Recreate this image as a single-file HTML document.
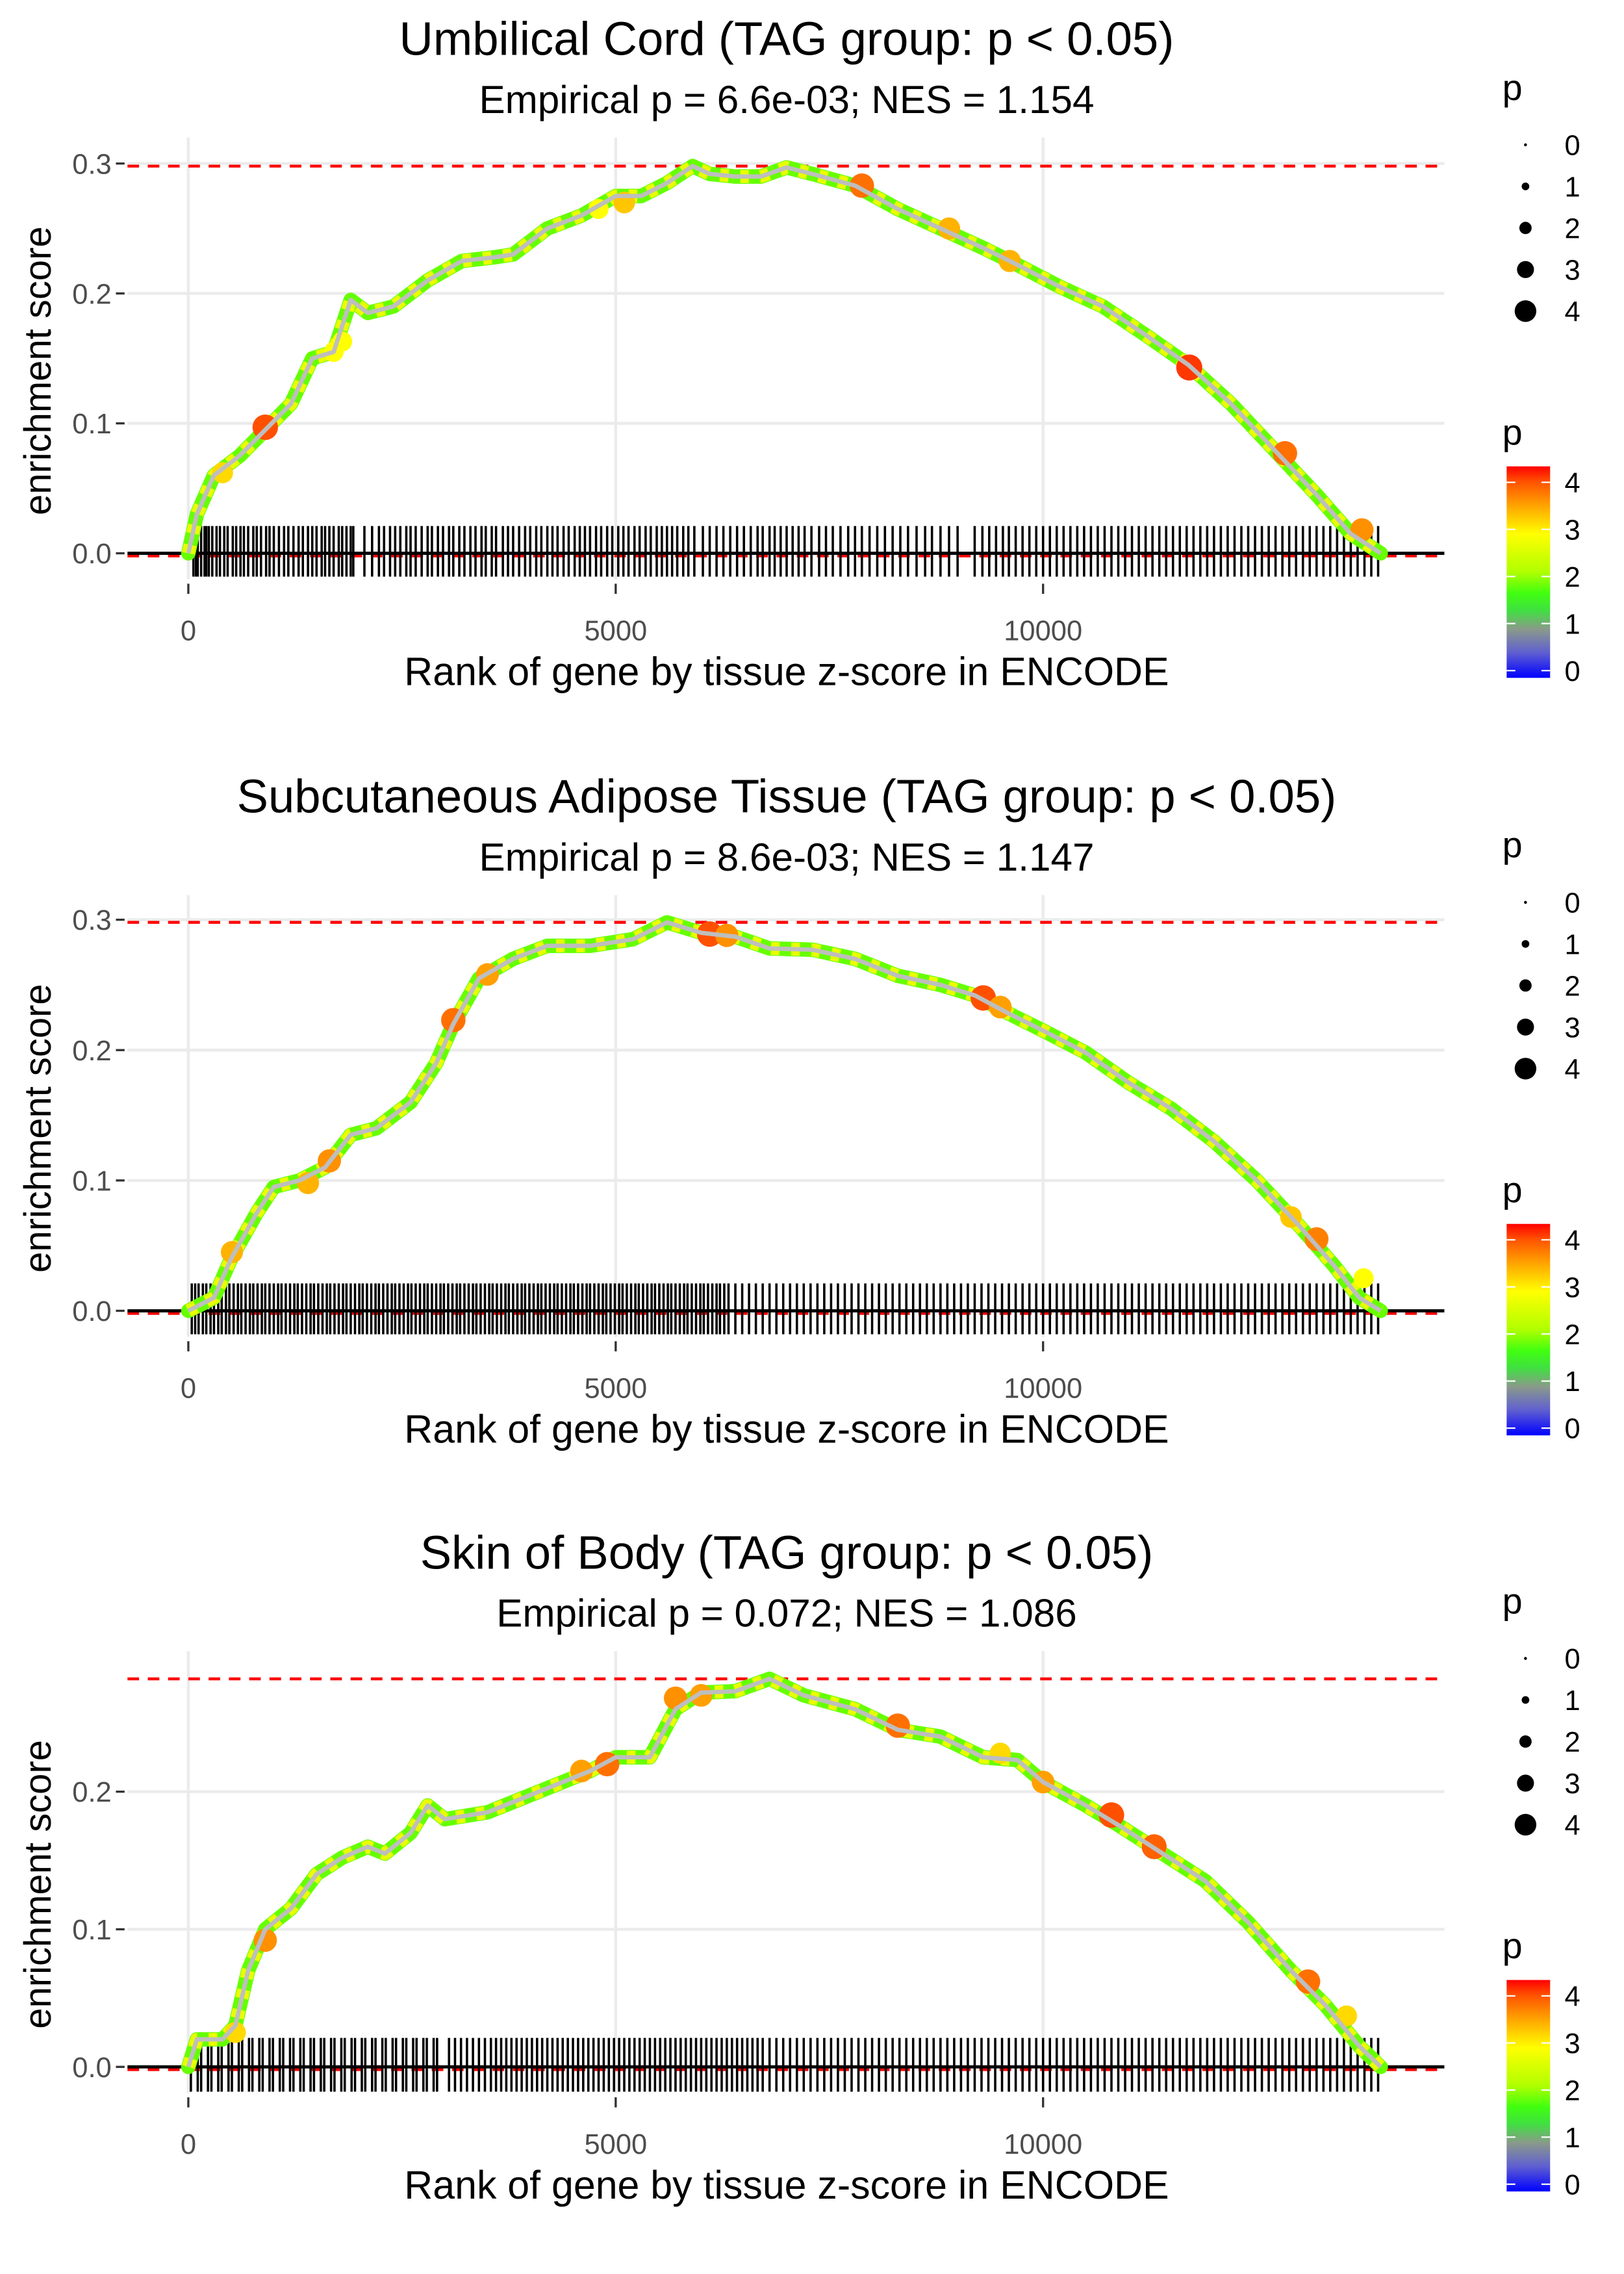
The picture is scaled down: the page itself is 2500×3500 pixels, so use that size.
<!DOCTYPE html>
<html><head><meta charset="utf-8"><style>
html,body{margin:0;padding:0;background:#fff}
svg{display:block}
text{font-family:"Liberation Sans",sans-serif}
</style></head><body>
<svg id="fig" xmlns="http://www.w3.org/2000/svg" width="2500" height="3500" viewBox="0 0 1121 1570" preserveAspectRatio="none">
<defs>
<linearGradient id="pgrad" x1="0" y1="1" x2="0" y2="0">
<stop offset="0" stop-color="#0000ff"/>
<stop offset="0.12" stop-color="#6060d0"/>
<stop offset="0.23" stop-color="#8a9a8a"/>
<stop offset="0.32" stop-color="#40e040"/>
<stop offset="0.40" stop-color="#40ff10"/>
<stop offset="0.50" stop-color="#b0ff00"/>
<stop offset="0.68" stop-color="#ffff00"/>
<stop offset="0.82" stop-color="#ffa000"/>
<stop offset="0.93" stop-color="#ff5000"/>
<stop offset="1" stop-color="#ff0000"/>
</linearGradient>
</defs>
</svg>
<script>
// ---- data ----
const panelTitles = ["Umbilical Cord (TAG group: p < 0.05)","Subcutaneous Adipose Tissue (TAG group: p < 0.05)","Skin of Body (TAG group: p < 0.05)"];
const panelSubtitles = ["Empirical p = 6.6e-03; NES = 1.154","Empirical p = 8.6e-03; NES = 1.147","Empirical p = 0.072; NES = 1.086"];
const xTicks = [0,5000,10000];
const yTicks1 = [0,0.1,0.2,0.3];
const yTicks2 = [0,0.1,0.2,0.3];
const yTicks3 = [0,0.1,0.2];
const curveRank1 = [0,100,300,600,900,1200,1450,1700,1900,2100,2400,2800,3200,3600,3800,4200,4600,5000,5300,5600,5900,6100,6400,6700,7000,7300,7800,8300,8800,9300,9700,10200,10700,11200,11700,12200,12700,13200,13600,13950];
const curveES1 = [0,0.03,0.06,0.075,0.095,0.115,0.15,0.155,0.195,0.185,0.19,0.21,0.225,0.228,0.23,0.25,0.26,0.275,0.275,0.285,0.298,0.292,0.29,0.29,0.297,0.292,0.283,0.265,0.25,0.235,0.222,0.205,0.19,0.168,0.145,0.115,0.08,0.045,0.015,0];
const curveRank2 = [0,300,500,800,1000,1300,1600,1900,2200,2600,2900,3100,3400,3800,4200,4700,5200,5600,6000,6400,6800,7300,7800,8300,8800,9200,9600,10000,10500,11000,11500,12000,12500,13000,13400,13700,13950];
const curveES2 = [0,0.01,0.04,0.075,0.095,0.1,0.11,0.135,0.14,0.16,0.19,0.22,0.255,0.27,0.28,0.28,0.285,0.298,0.29,0.287,0.278,0.277,0.27,0.257,0.25,0.242,0.228,0.215,0.198,0.175,0.155,0.13,0.1,0.065,0.035,0.01,0];
const curveRank3 = [0,100,400,550,700,900,1200,1500,1800,2100,2300,2600,2800,3000,3500,3900,4300,4700,5000,5400,5700,6000,6400,6800,7200,7800,8300,8800,9300,9700,10000,10500,10900,11400,11900,12400,12900,13300,13700,13950];
const curveES3 = [0,0.02,0.02,0.03,0.07,0.1,0.115,0.14,0.152,0.16,0.155,0.17,0.19,0.18,0.185,0.195,0.205,0.215,0.225,0.225,0.26,0.272,0.273,0.282,0.27,0.26,0.245,0.24,0.225,0.223,0.207,0.19,0.175,0.155,0.135,0.105,0.07,0.045,0.015,0];
const ptRank1 = [400,900,1700,1800,4800,5100,7880,8900,9610,11710,12830,13730];
const ptES1 = [0.062,0.097,0.155,0.163,0.265,0.27,0.283,0.25,0.225,0.143,0.077,0.018];
const ptP1 = [3.2,4,3,3,3,3.3,3.8,3.4,3.4,4.1,3.8,3.6];
const ptRank2 = [510,1400,1650,3100,3500,6100,6300,9300,9500,12900,13200,13750];
const ptES2 = [0.045,0.098,0.115,0.223,0.258,0.289,0.288,0.24,0.233,0.072,0.055,0.025];
const ptP2 = [3.4,3.4,3.6,3.8,3.5,4,3.6,4,3.5,3.3,3.7,3];
const ptRank3 = [550,900,4600,4900,5700,6000,8300,9500,10000,10800,11300,13100,13550];
const ptES3 = [0.025,0.092,0.215,0.22,0.268,0.27,0.248,0.228,0.207,0.183,0.16,0.062,0.037];
const ptP3 = [3.2,3.6,3.5,3.8,3.6,3.5,3.8,3.2,3.5,4,3.9,3.8,3.2];
const hits1 = [60,90,110,150,190,210,240,280,330,370,420,460,520,560,610,650,700,760,800,850,910,950,1000,1060,1120,1170,1230,1290,1340,1400,1450,1500,1560,1600,1650,1700,1760,1800,1850,1900,1930,2060,2150,2230,2290,2360,2420,2480,2550,2600,2660,2730,2800,2850,2920,2980,3050,3100,3170,3230,3300,3360,3430,3480,3550,3600,3680,3740,3800,3870,3940,4000,4070,4130,4200,4260,4320,4390,4450,4520,4580,4640,4700,4770,4830,4900,4960,5030,5090,5150,5220,5280,5350,5410,5480,5540,5600,5660,5720,5790,5850,5920,6020,6100,6180,6260,6340,6420,6500,6580,6660,6720,6800,6860,6930,7000,7070,7140,7210,7290,7380,7460,7540,7630,7720,7800,7880,7970,8060,8150,8240,8330,8420,8520,8620,8700,8800,8900,9000,9200,9290,9370,9450,9530,9600,9680,9760,9840,9920,10000,10080,10160,10240,10320,10400,10480,10560,10640,10720,10800,10880,10960,11040,11120,11200,11280,11360,11440,11520,11600,11680,11760,11840,11920,12000,12080,12160,12240,12320,12400,12480,12560,12640,12720,12800,12880,12960,13040,13120,13200,13280,13360,13440,13520,13600,13680,13760,13840,13920];
const hits2 = [40,80,120,170,210,260,300,350,390,440,480,530,580,620,670,720,760,810,860,900,950,1000,1050,1090,1140,1190,1240,1280,1330,1380,1430,1470,1520,1570,1620,1660,1710,1760,1810,1850,1900,1950,2000,2040,2090,2140,2190,2230,2280,2330,2380,2420,2470,2520,2570,2610,2660,2710,2760,2800,2850,2900,2950,2990,3040,3090,3140,3180,3230,3280,3330,3370,3420,3470,3520,3560,3610,3660,3710,3750,3800,3850,3900,3940,3990,4040,4090,4130,4180,4230,4280,4320,4370,4420,4470,4510,4560,4610,4660,4700,4750,4800,4850,4890,4940,4990,5040,5080,5130,5180,5230,5270,5320,5370,5420,5460,5510,5560,5610,5650,5700,5750,5800,5840,5890,5940,5990,6030,6080,6130,6180,6220,6270,6320,6400,6480,6560,6640,6720,6800,6880,6960,7040,7120,7200,7280,7360,7440,7520,7600,7680,7760,7840,7920,8000,8080,8160,8240,8320,8400,8480,8560,8640,8720,8800,8880,8960,9040,9120,9200,9280,9360,9440,9520,9600,9680,9760,9840,9920,10000,10080,10160,10240,10320,10400,10480,10560,10640,10720,10800,10880,10960,11040,11120,11200,11280,11360,11440,11520,11600,11680,11760,11840,11920,12000,12080,12160,12240,12320,12400,12480,12560,12640,12720,12800,12880,12960,13040,13120,13200,13280,13360,13440,13520,13600,13680,13760,13840,13920];
const hits3 = [30,110,150,230,270,350,390,470,510,590,630,710,750,830,870,950,990,1070,1110,1190,1230,1310,1350,1430,1470,1550,1590,1670,1710,1790,1830,1910,1950,2030,2070,2150,2190,2270,2310,2390,2430,2510,2550,2630,2670,2750,2790,2870,2910,3050,3120,3190,3260,3330,3400,3470,3540,3600,3660,3720,3780,3840,3900,3960,4020,4080,4140,4200,4260,4320,4380,4440,4500,4560,4620,4680,4740,4800,4860,4920,4980,5040,5100,5160,5220,5280,5340,5400,5460,5520,5580,5640,5700,5760,5820,5880,5940,6000,6060,6120,6180,6240,6300,6360,6420,6480,6540,6600,6660,6720,6800,6880,6960,7040,7120,7200,7280,7360,7440,7520,7600,7680,7760,7840,7920,8000,8080,8160,8240,8320,8400,8480,8560,8640,8720,8800,8880,8960,9040,9120,9200,9280,9360,9440,9520,9600,9680,9760,9840,9920,10000,10080,10160,10240,10320,10400,10480,10560,10640,10720,10800,10880,10960,11040,11120,11200,11280,11360,11440,11520,11600,11680,11760,11840,11920,12000,12080,12160,12240,12320,12400,12480,12560,12640,12720,12800,12880,12960,13040,13120,13200,13280,13360,13440,13520,13600,13680,13760,13840,13920];
const legendSizeValues = [0,1,2,3,4];
const legendColorValues = [4,3,2,1,0];

// ---- layout ----
const svg = document.getElementById('fig');
const NS = 'http://www.w3.org/2000/svg';
function mk(tag, attrs, parent){
  const e = document.createElementNS(NS, tag);
  for (const k in attrs) e.setAttribute(k, attrs[k]);
  (parent||svg).appendChild(e);
  return e;
}
function colorFor(p){
  const stops=[[0,[0,0,255]],[0.5,[96,96,208]],[1,[138,154,138]],[1.4,[64,224,64]],[1.75,[64,255,16]],[2.2,[176,255,0]],[3,[255,255,0]],[3.5,[255,160,0]],[4,[255,80,0]],[4.34,[255,0,0]]];
  for(let i=1;i<stops.length;i++){
    if(p<=stops[i][0]){
      const a=stops[i-1],b=stops[i],t=(p-a[0])/(b[0]-a[0]);
      const c=a[1].map((v,j)=>Math.round(v+(b[1][j]-v)*t));
      return 'rgb('+c.join(',')+')';
    }
  }
  return 'rgb(255,0,0)';
}
function sizeFor(p){ return 1.2 + p*1.9; }

const panels = [
  {off:0, y0:382, per:897, ticks:yTicks1, cr:curveRank1, ce:curveES1, pr:ptRank1, pe:ptES1, pp:ptP1, hits:hits1},
  {off:523, y0:905, per:900, ticks:yTicks2, cr:curveRank2, ce:curveES2, pr:ptRank2, pe:ptES2, pp:ptP2, hits:hits2},
  {off:1045, y0:1427, per:950, ticks:yTicks3, cr:curveRank3, ce:curveES3, pr:ptRank3, pe:ptES3, pp:ptP3, hits:hits3}
];
const X0 = 130, XS = 0.059;

panels.forEach((P, i) => {
  const g = mk('g', {});
  
  
  const xs = r => X0 + r*XS;
  const ys = v => P.y0 - v*P.per;
  const top = P.off + 95, bot = P.off + 400;

  const t = mk('text', {x:543, y:P.off+38, 'text-anchor':'middle', 'font-size':32.5, fill:'#000'}, g);
  t.textContent = panelTitles[i];
  
  
  const st = mk('text', {x:543, y:P.off+78, 'text-anchor':'middle', 'font-size':27, fill:'#000'}, g);
  st.textContent = panelSubtitles[i];
  
  

  xTicks.forEach(v => {
    const l = mk('line', {x1:xs(v), x2:xs(v), y1:top, y2:bot, stroke:'#ebebeb', 'stroke-width':2}, g);
    
    
    const tk = mk('line', {x1:xs(v), x2:xs(v), y1:bot+3, y2:bot+10, stroke:'#333', 'stroke-width':1.5}, g);
    
    
    const tl = mk('text', {x:xs(v), y:P.off+442, 'text-anchor':'middle', 'font-size':19.5, fill:'#4d4d4d'}, g);
    tl.textContent = String(v);
    
    
  });
  P.ticks.forEach(v => {
    const l = mk('line', {x1:88, x2:997, y1:ys(v), y2:ys(v), stroke:'#ebebeb', 'stroke-width':2}, g);
    
    
    const tk = mk('line', {x1:80, x2:86, y1:ys(v), y2:ys(v), stroke:'#333', 'stroke-width':1.5}, g);
    
    
    const tl = mk('text', {x:77, y:ys(v)+7, 'text-anchor':'end', 'font-size':19.5, fill:'#4d4d4d'}, g);
    tl.textContent = v.toFixed(1);
    
    
  });
  const yt = mk('text', {x:0, y:0, 'text-anchor':'middle', 'font-size':26, fill:'#000', transform:'translate(35,'+(P.off+256)+') rotate(-90)'}, g);
  yt.textContent = 'enrichment score';
  
  
  const xt = mk('text', {x:543, y:P.off+473, 'text-anchor':'middle', 'font-size':27.3, fill:'#000'}, g);
  xt.textContent = 'Rank of gene by tissue z-score in ENCODE';
  
  

  const maxES = Math.max(...P.ce);
  const ml = mk('line', {x1:88, x2:997, y1:ys(maxES), y2:ys(maxES), stroke:'#ff0000', 'stroke-width':2, 'stroke-dasharray':'8,6'}, g);
  
  
  const zl = mk('line', {x1:88, x2:997, y1:ys(-0.002), y2:ys(-0.002), stroke:'#ff0000', 'stroke-width':2, 'stroke-dasharray':'8,6'}, g);
  
  

  let d = '';
  P.hits.forEach(h => { d += 'M' + xs(h).toFixed(2) + ' ' + ys(0.021).toFixed(1) + 'V' + ys(-0.018).toFixed(1); });
  const rug = mk('path', {d:d, stroke:'#000', 'stroke-width':1.6, fill:'none'}, g);
  
  
  const zero = mk('line', {x1:88, x2:997, y1:ys(0), y2:ys(0), stroke:'#000', 'stroke-width':2.2}, g);
  
  

  const pts = P.cr.map((r,k) => xs(r).toFixed(2) + ',' + ys(P.ce[k]).toFixed(2)).join(' ');
  const band = mk('polyline', {points:pts, fill:'none', stroke:'#66ff00', 'stroke-width':10, 'stroke-linejoin':'round', 'stroke-linecap':'round'}, g);
  
  
  const band2 = mk('polyline', {points:pts, fill:'none', stroke:'#e8ff00', 'stroke-width':9, 'stroke-dasharray':'6,8', 'stroke-linejoin':'round'}, g);
  
  
  P.pr.forEach((r,k) => {
    const c = mk('circle', {cx:xs(r), cy:ys(P.pe[k]), r:sizeFor(P.pp[k]), fill:colorFor(P.pp[k])}, g);
    
    
  });
  const line = mk('polyline', {points:pts, fill:'none', stroke:'#bebebe', 'stroke-width':3, 'stroke-linejoin':'round'}, g);
  
  

  const lg = mk('g', {}, g);
  
  
  const lt = mk('text', {x:1037, y:P.off+69, 'font-size':25, fill:'#000'}, lg);
  lt.textContent = 'p';
  
  
  legendSizeValues.forEach((v,k) => {
    const yy = P.off + 100 + k*28.7;
    const c = mk('circle', {cx:1053, cy:yy, r:sizeFor(v)*0.85, fill:'#000'}, lg);
    
    
    const tx = mk('text', {x:1080, y:yy+7, 'font-size':19.5, fill:'#000'}, lg);
    tx.textContent = String(v);
    
    
  });

  const cg = mk('g', {}, g);
  
  
  const ct = mk('text', {x:1037, y:P.off+307, 'font-size':25, fill:'#000'}, cg);
  ct.textContent = 'p';
  
  
  const cb = mk('rect', {x:1040, y:P.off+322, width:30, height:146, fill:'url(#pgrad)'}, cg);
  
  
  legendColorValues.forEach(v => {
    const yy = P.off + 463 - v*32.5;
    const a = mk('line', {x1:1040, x2:1046, y1:yy, y2:yy, stroke:'#fff', 'stroke-width':1}, cg);
    
    
    const b = mk('line', {x1:1064, x2:1070, y1:yy, y2:yy, stroke:'#fff', 'stroke-width':1}, cg);
    
    
    const tx = mk('text', {x:1080, y:yy+7, 'font-size':19.5, fill:'#000'}, cg);
    tx.textContent = String(v);
    
    
  });
});
</script>
</body></html>
